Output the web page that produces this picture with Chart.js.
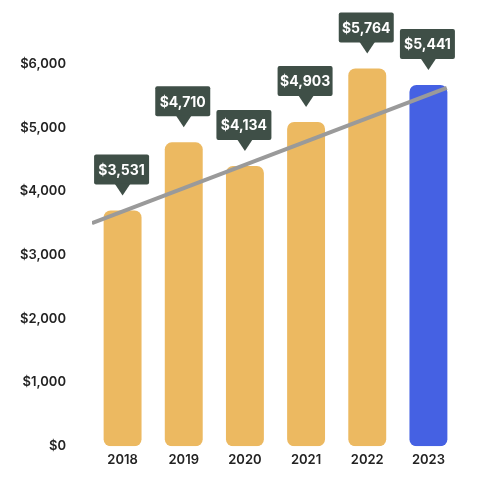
<!DOCTYPE html>
<html>
<head>
<meta charset="utf-8">
<script src="https://cdn.jsdelivr.net/npm/chart.js@4.4.0/dist/chart.umd.min.js"></script>
<style>
  html, body { margin: 0; padding: 0; background: #fff; }
  #wrap { width: 480px; height: 480px; }
</style>
</head>
<body>
<div id="wrap"><canvas id="chart" width="480" height="480"></canvas></div>
<script>
// chart data
const years = ['2018', '2019', '2020', '2021', '2022', '2023'];
const barValues = [3700, 4770, 4400, 5090, 5930, 5670];
const calloutValues = [3531, 4710, 4134, 4903, 5764, 5441];
const yTicks = [0, 1000, 2000, 3000, 4000, 5000, 6000];
// trend line end points (x in category index units)
const trendX = [-0.5, 5.3];
const trendY = [3500, 5625];

const barColors = years.map((y, i) => i === years.length - 1 ? '#4561e3' : '#ecb961');

function money(v) {
    return '$' + v.toLocaleString('en-US');
}

// Callout boxes above each bar
const calloutPlugin = {
    id: 'callouts',
    afterDatasetsDraw(chart) {
        const ctx = chart.ctx;
        const meta = chart.getDatasetMeta(0);
        ctx.save();
        ctx.font = 'bold 14px Inter, "DejaVu Sans", sans-serif';
        meta.data.forEach(function (bar, i) {
            const text = money(calloutValues[i]);
            const w = 55, h = 30, tip = 11, gap = 15;
            const tipY = bar.y - gap;
            const boxBottom = tipY - tip;
            const left = bar.x - w / 2 - 1;
            ctx.fillStyle = '#3f4f47';
            ctx.beginPath();
            ctx.roundRect(left, boxBottom - h, w, h, 2);
            ctx.fill();
            ctx.beginPath();
            ctx.moveTo(bar.x - 8, boxBottom - 1);
            ctx.lineTo(bar.x + 8, boxBottom - 1);
            ctx.lineTo(bar.x, tipY);
            ctx.closePath();
            ctx.fill();
            ctx.fillStyle = '#ffffff';
            ctx.textAlign = 'center';
            ctx.textBaseline = 'middle';
            ctx.fillText(text, left + w / 2, boxBottom - h / 2 + 1);
        });
        ctx.restore();
    }
};

new Chart(document.getElementById('chart'), {
    type: 'bar',
    data: {
        labels: years,
        datasets: [{
            data: barValues,
            backgroundColor: barColors,
            borderRadius: 7,
            borderSkipped: false,
            grouped: false,
            barPercentage: 0.62,
            categoryPercentage: 1,
            order: 1
        }, {
            type: 'line',
            data: trendX.map((x, i) => ({ x: x, y: trendY[i] })),
            xAxisID: 'xLine',
            borderColor: '#9a9a9a',
            borderWidth: 4,
            pointRadius: 0,
            fill: false,
            order: 0
        }]
    },
    options: {
        responsive: false,
        animation: false,
        layout: { padding: { top: 64, left: 14, right: 21, bottom: 4 } },
        plugins: {
            legend: { display: false },
            tooltip: { enabled: false }
        },
        scales: {
            x: {
                grid: { display: false, drawTicks: false },
                border: { display: false },
                ticks: {
                    color: '#222',
                    padding: 6,
                    font: { family: 'Inter, "DejaVu Sans", sans-serif', size: 13, weight: '600' }
                }
            },
            xLine: {
                type: 'linear',
                display: false,
                offset: false,
                min: -0.5,
                max: 5.5
            },
            y: {
                min: 0,
                max: 6000,
                grid: { display: false, drawTicks: false },
                border: { display: false },
                afterBuildTicks(axis) {
                    axis.ticks = yTicks.map(v => ({ value: v }));
                },
                afterFit(axis) {
                    axis.width = 78;
                },
                ticks: {
                    color: '#222',
                    padding: 26,
                    font: { family: 'Inter, "DejaVu Sans", sans-serif', size: 13, weight: '600' },
                    callback: v => money(v)
                }
            }
        }
    },
    plugins: [calloutPlugin]
});
</script>
</body>
</html>
